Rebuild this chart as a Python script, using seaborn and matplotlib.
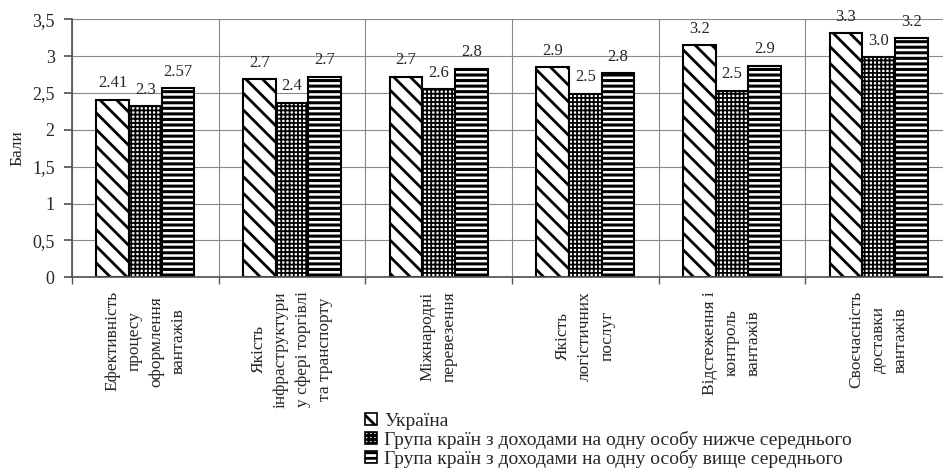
import numpy as np
import pandas as pd
import matplotlib
matplotlib.use("Agg")
import matplotlib.pyplot as plt
import seaborn as sns

categories = [
    "Ефективність\nпроцесу\nоформлення\nвантажів",
    "Якість\nінфраструктури\nу сфері торгівлі\nта транспорту",
    "Міжнародні\nперевезення",
    "Якість\nлогістичних\nпослуг",
    "Відстеження і\nконтроль\nвантажів",
    "Своєчасність\nдоставки\nвантажів",
]
series_names = [
    "Україна",
    "Група країн з доходами на одну особу нижче середнього",
    "Група країн з доходами на одну особу вище середнього",
]
ukraine = [2.41, 2.69, 2.72, 2.85, 3.15, 3.31]
lower_middle = [2.32, 2.37, 2.55, 2.49, 2.53, 2.99]
upper_middle = [2.57, 2.72, 2.83, 2.77, 2.87, 3.24]
value_labels = [
    ["2.41", "2.7", "2.7", "2.9", "3.2", "3.3"],
    ["2.3", "2.4", "2.6", "2.5", "2.5", "3.0"],
    ["2.57", "2.7", "2.8", "2.8", "2.9", "3.2"],
]
y_ticks = [0, 0.5, 1, 1.5, 2, 2.5, 3, 3.5]
y_tick_labels = ["0", "0,5", "1", "1,5", "2", "2,5", "3", "3,5"]

df = pd.DataFrame({
    "cat": categories * 3,
    "group": np.repeat(series_names, len(categories)),
    "val": ukraine + lower_middle + upper_middle,
})

sns.set_theme(style="white")
plt.rcParams["font.family"] = ["Liberation Serif", "DejaVu Serif"]
plt.rcParams["hatch.linewidth"] = 2.0
plt.rcParams["hatch.color"] = "black"

fig = plt.figure(figsize=(9.43, 4.74), dpi=100)
ax = fig.add_axes([72 / 943, 1 - 277.3 / 474, 880 / 943, 258 / 474])

sns.barplot(data=df, x="cat", y="val", hue="group", hue_order=series_names,
            palette=["white"] * 3, edgecolor="black", linewidth=1.5,
            width=0.67, gap=0, ax=ax, legend=False, errorbar=None)

# hatch patterns: diagonal, checker, horizontal stripes
hatches = ["\\\\", "++++", "---"]
hatch_lw = [2.0, 1.3, 2.2]
for cont, h, lw, labs in zip(ax.containers, hatches, hatch_lw, value_labels):
    for bar in cont:
        bar.set_hatch(h)
        bar.set_edgecolor("black")
        if hasattr(bar, "set_hatch_linewidth"):
            bar.set_hatch_linewidth(lw)
    ax.bar_label(cont, labels=labs, padding=6, fontsize=12)

ax.set_ylim(0, 3.5)
ax.set_xlim(-0.5, 5.5)
ax.set_yticks(y_ticks)
ax.set_yticklabels(y_tick_labels, fontsize=13)
ax.set_xticks(range(len(categories)))
ax.set_xticklabels(categories, rotation=90, fontsize=12.5, va="top", ha="center")
for t in ax.get_xticklabels():
    t.set_multialignment("center")
    t.set_linespacing(1.5)
ax.set_xticks(np.arange(-0.5, 6, 1), minor=True)
ax.tick_params(axis="x", which="major", length=0, pad=10)
ax.tick_params(axis="x", which="minor", length=5, color="#555555", direction="out", bottom=True)
ax.tick_params(axis="y", length=5.5, color="#555555", direction="out", left=True, pad=7)
ax.grid(True, axis="y", color="#888888", linewidth=0.8)
ax.grid(True, axis="x", which="minor", color="#888888", linewidth=0.8)
ax.set_axisbelow(True)
for s in ["top", "right"]:
    ax.spines[s].set_visible(False)
ax.spines["left"].set_color("#555555")
ax.spines["bottom"].set_color("#555555")
ax.set_xlabel("")
ax.set_ylabel("Бали", fontsize=12.5, labelpad=5)

handles = [plt.Rectangle((0, 0), 1, 1, facecolor="white", edgecolor="black",
                         hatch=h, linewidth=1.2) for h in hatches]
fig.legend(handles, series_names, loc="upper left", bbox_to_anchor=(365 / 943, 1 - 413 / 474),
           frameon=False, fontsize=14, handlelength=0.6, handleheight=0.6,
           handletextpad=0.4, labelspacing=0.05, borderpad=0, borderaxespad=0)

fig.savefig("out.png", dpi=100)
